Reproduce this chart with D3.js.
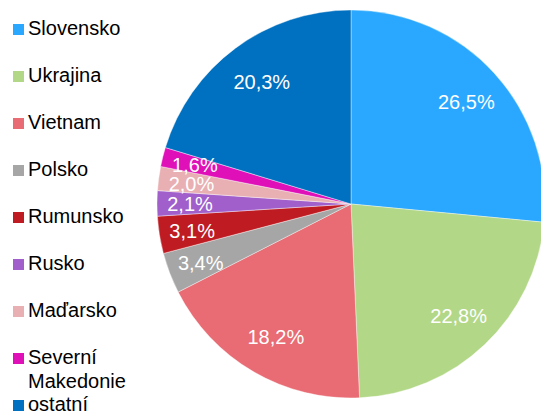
<html lang="cs">
<head>
    <meta charset="UTF-8">
    <title>pie</title>
    <style>
        body { margin: 0; background: #fff; }
        text { font-family: "Liberation Sans", Arial, sans-serif; }
    </style>
</head>
<body>
<script src="https://cdn.jsdelivr.net/npm/d3@7"></script>
<script>
    var categories = ["Slovensko", "Ukrajina", "Vietnam", "Polsko", "Rumunsko", "Rusko", "Maďarsko", "Severní Makedonie", "ostatní"];
    var values = [26.5, 22.8, 18.2, 3.4, 3.1, 2.1, 2.0, 1.6, 20.3];
    var colors = ["#2AA8FF", "#B2D786", "#E96B73", "#A6A6A6", "#BE1B22", "#A05FCB", "#E8B0B3", "#E010B8", "#0070C0"];

    var width = 541, height = 411;
    var cx = 351, cy = 204, radius = 194;

    var svg = d3.select("body").append("svg").attr("width", width).attr("height", height);

    var data = categories.map(function(c, i){ return {name: c, value: values[i], color: colors[i]}; });

    var pie = d3.pie().sort(null).value(function(d){ return d.value; });
    var arc = d3.arc().innerRadius(0).outerRadius(radius);
    var fmt = d3.format(".1f");

    var g = svg.append("g").attr("transform", "translate(" + cx + "," + cy + ")");
    var arcs = pie(data);

    g.selectAll("path").data(arcs).enter().append("path")
        .attr("d", arc)
        .attr("fill", function(d){ return d.data.color; })
        .attr("stroke", "#fff")
        .attr("stroke-width", 0.4);

    // labels: big slices a bit inward, small ones near the rim
    g.selectAll(".lbl").data(arcs).enter().append("text").attr("class", "lbl")
        .attr("transform", function(d){
            var r = d.data.value > 10 ? radius * 0.79 : radius * 0.84;
            var a = (d.startAngle + d.endAngle) / 2;
            return "translate(" + (Math.sin(a) * r + 2) + "," + (-Math.cos(a) * r + 1) + ")";
        })
        .attr("text-anchor", "middle")
        .attr("dy", "0.35em")
        .attr("fill", "#fff")
        .style("font-size", "20px")
        .text(function(d){ return fmt(d.data.value).replace(".", ",") + "%"; });

    // legend
    var leg = svg.selectAll(".leg").data(data).enter().append("g").attr("class", "leg")
        .attr("transform", function(d, i){ return "translate(13," + (35 + i * 47) + ")"; });

    leg.append("rect")
        .attr("x", 0).attr("y", -11)
        .attr("width", 11).attr("height", 11)
        .attr("fill", function(d){ return d.color; });

    leg.append("text")
        .attr("x", 15).attr("y", 0)
        .attr("fill", "#000")
        .style("font-size", "20px")
        .each(function(d){
            var parts = d.name.split(" ");
            var t = d3.select(this);
            parts.forEach(function(p, k){
                t.append("tspan").attr("x", 15).attr("dy", k == 0 ? 0 : 24).text(p);
            });
        });
</script>
</body>
</html>
